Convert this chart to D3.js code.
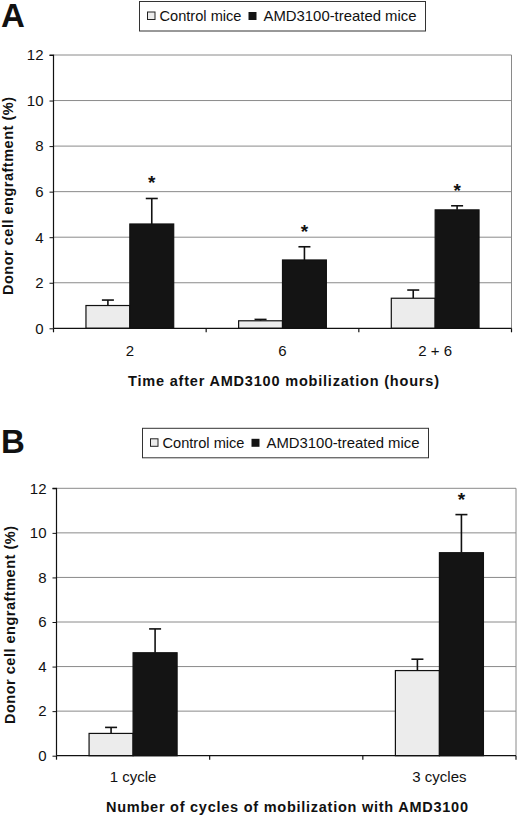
<!DOCTYPE html>
<html>
<head>
<meta charset="utf-8">
<script src="https://cdn.jsdelivr.net/npm/d3@7"></script>
<style>
  html, body { margin: 0; padding: 0; background: #fff; }
  svg { display: block; }
  text { font-family: "Liberation Sans", Arial, sans-serif; fill: #111; }
</style>
</head>
<body>
<svg id="chart" width="520" height="817"></svg>
<script>
// ---------- data ----------
const seriesNames = ["Control mice", "AMD3100-treated mice"];
const yTicks = [0, 2, 4, 6, 8, 10, 12];

// Panel A
const timeCategories = ["2", "6", "2 + 6"];
const timeControl = [1.0, 0.33, 1.32];
const timeControlErr = [0.24, 0.06, 0.36];
const timeTreated = [4.58, 3.0, 5.2];
const timeTreatedErr = [1.12, 0.58, 0.18];
const timeSignificant = [true, true, true];

// Panel B (middle slot is empty in the original)
const cycleCategories = ["1 cycle", "", "3 cycles"];
const cycleControl = [1.0, null, 3.82];
const cycleControlErr = [0.27, null, 0.51];
const cycleTreated = [4.62, null, 9.11];
const cycleTreatedErr = [1.07, null, 1.71];
const cycleSignificant = [false, false, true];

// ---------- drawing ----------
const svg = d3.select("#chart");
const colors = { control: "#ececec", treated: "#141414" };

function drawPanel(cfg) {
  const g = svg.append("g");
  const x = d3.scaleBand().domain(cfg.categories.map((c, i) => i)).range([cfg.left, cfg.right]).paddingInner(0).paddingOuter(0);
  const y = d3.scaleLinear().domain([0, 12]).range([cfg.bottom, cfg.top]);
  const sub = d3.scaleBand().domain(["control", "treated"]).range([0, x.bandwidth()]).paddingInner(0).paddingOuter(0.74);

  // panel label
  g.append("text").attr("x", cfg.labelX).attr("y", cfg.labelY)
    .attr("font-size", 33).attr("font-weight", "bold").text(cfg.label);

  // legend
  const lg = g.append("g");
  lg.append("rect").attr("x", cfg.legX).attr("y", cfg.legY).attr("width", 286).attr("height", 29.5)
    .attr("fill", "#fff").attr("stroke", "#333").attr("stroke-width", 1);
  lg.append("rect").attr("x", cfg.legX + 8).attr("y", cfg.legY + 10.5).attr("width", 7.5).attr("height", 7.5)
    .attr("fill", colors.control).attr("stroke", "#222").attr("stroke-width", 1);
  lg.append("text").attr("x", cfg.legX + 20).attr("y", cfg.legY + 19.5).attr("font-size", 14.5)
    .attr("textLength", 82).attr("lengthAdjust", "spacingAndGlyphs").text(seriesNames[0]);
  lg.append("rect").attr("x", cfg.legX + 109).attr("y", cfg.legY + 10.5).attr("width", 8).attr("height", 8)
    .attr("fill", colors.treated);
  lg.append("text").attr("x", cfg.legX + 124).attr("y", cfg.legY + 19.5).attr("font-size", 14.5)
    .attr("textLength", 153).attr("lengthAdjust", "spacingAndGlyphs").text(seriesNames[1]);

  // gridlines
  g.append("g").selectAll("line").data(yTicks.filter(t => t > 0)).join("line")
    .attr("x1", cfg.left).attr("x2", cfg.right)
    .attr("y1", d => y(d)).attr("y2", d => y(d))
    .attr("stroke", "#8a8a8a").attr("stroke-width", 1);
  // right frame
  g.append("line").attr("x1", cfg.right).attr("x2", cfg.right).attr("y1", cfg.top).attr("y2", cfg.bottom)
    .attr("stroke", "#8a8a8a").attr("stroke-width", 1);

  // bars
  const rows = cfg.categories.map((c, i) => ({ i, c, ctl: cfg.control[i], ctlE: cfg.controlErr[i], trt: cfg.treated[i], trtE: cfg.treatedErr[i], sig: cfg.significant[i] }))
    .filter(r => r.ctl !== null);
  const bars = [];
  rows.forEach(r => {
    bars.push({ i: r.i, key: "control", v: r.ctl, e: r.ctlE, sig: false });
    bars.push({ i: r.i, key: "treated", v: r.trt, e: r.trtE, sig: r.sig });
  });
  const bw = sub.bandwidth();
  const eg = g.append("g").attr("stroke", "#111").attr("stroke-width", 1.6);
  bars.forEach(b => {
    const cx = x(b.i) + sub(b.key) + bw / 2;
    eg.append("line").attr("x1", cx).attr("x2", cx).attr("y1", y(b.v)).attr("y2", y(b.v + b.e));
    eg.append("line").attr("x1", cx - 6).attr("x2", cx + 6).attr("y1", y(b.v + b.e)).attr("y2", y(b.v + b.e));
  });
  g.append("g").selectAll("rect").data(bars).join("rect")
    .attr("x", d => x(d.i) + sub(d.key))
    .attr("y", d => y(d.v))
    .attr("width", bw)
    .attr("height", d => y(0) - y(d.v))
    .attr("fill", d => colors[d.key])
    .attr("stroke", "#111").attr("stroke-width", 1.2);
  // stars
  g.append("g").selectAll("text").data(bars.filter(b => b.sig)).join("text")
    .attr("x", d => x(d.i) + sub(d.key) + bw / 2)
    .attr("y", d => y(d.v + d.e) - 9)
    .attr("text-anchor", "middle").attr("font-size", 19).attr("font-weight", "bold").text("*");

  // y axis
  const yAxis = d3.axisLeft(y).tickValues(yTicks).tickSize(4).tickPadding(6).tickFormat(d3.format("d"));
  const ya = g.append("g").attr("transform", `translate(${cfg.left},0)`).call(yAxis);
  ya.select(".domain").attr("stroke", "#111").attr("stroke-width", 1.2).attr("d", `M-4,${cfg.top}H0V${cfg.bottom}`);
  ya.selectAll(".tick line").attr("stroke", "#111");
  ya.selectAll(".tick text").attr("font-size", 15).attr("font-family", "Liberation Sans, Arial, sans-serif").attr("fill", "#111");

  // x axis: line with ticks at category boundaries
  const xa = g.append("g");
  xa.append("line").attr("x1", cfg.left).attr("x2", cfg.right).attr("y1", y(0)).attr("y2", y(0))
    .attr("stroke", "#111").attr("stroke-width", 1.2);
  const bounds = cfg.categories.map((c, i) => x(i)).concat([cfg.right]);
  xa.selectAll("line.tk").data(bounds).join("line").attr("class", "tk")
    .attr("x1", d => d).attr("x2", d => d).attr("y1", y(0)).attr("y2", y(0) + 4)
    .attr("stroke", "#111").attr("stroke-width", 1.2);
  xa.selectAll("text").data(cfg.categories.map((c, i) => ({ c, i }))).join("text")
    .attr("x", d => x(d.i) + x.bandwidth() / 2)
    .attr("y", cfg.tickLabelY)
    .attr("text-anchor", "middle").attr("font-size", 15).text(d => d.c);

  // axis titles
  g.append("text").attr("x", cfg.xTitleX).attr("y", cfg.xTitleY)
    .attr("font-size", 14.5).attr("font-weight", "bold")
    .attr("textLength", cfg.xTitleLen).attr("lengthAdjust", "spacing").text(cfg.xTitle);
  g.append("text").attr("transform", `translate(${cfg.yTitleX},${cfg.yTitleY}) rotate(-90)`)
    .attr("x", -99)
    .attr("font-size", 14.5).attr("font-weight", "bold")
    .attr("textLength", 198).attr("lengthAdjust", "spacing")
    .text("Donor cell engraftment (%)");
}

drawPanel({
  label: "A", labelX: 1, labelY: 27,
  legX: 139.5, legY: 1.5,
  categories: timeCategories, control: timeControl, controlErr: timeControlErr,
  treated: timeTreated, treatedErr: timeTreatedErr, significant: timeSignificant,
  left: 53.5, right: 511.5, top: 55, bottom: 328.3,
  tickLabelY: 355.5,
  xTitle: "Time after AMD3100 mobilization (hours)", xTitleX: 128, xTitleY: 385.5, xTitleLen: 311,
  yTitleX: 13, yTitleY: 196
});

drawPanel({
  label: "B", labelX: 1, labelY: 453,
  legX: 142.5, legY: 428.3,
  categories: cycleCategories, control: cycleControl, controlErr: cycleControlErr,
  treated: cycleTreated, treatedErr: cycleTreatedErr, significant: cycleSignificant,
  left: 56.5, right: 516, top: 488.3, bottom: 755.7,
  tickLabelY: 782,
  xTitle: "Number of cycles of mobilization with AMD3100", xTitleX: 106, xTitleY: 812, xTitleLen: 362,
  yTitleX: 15, yTitleY: 625
});
</script>
</body>
</html>
